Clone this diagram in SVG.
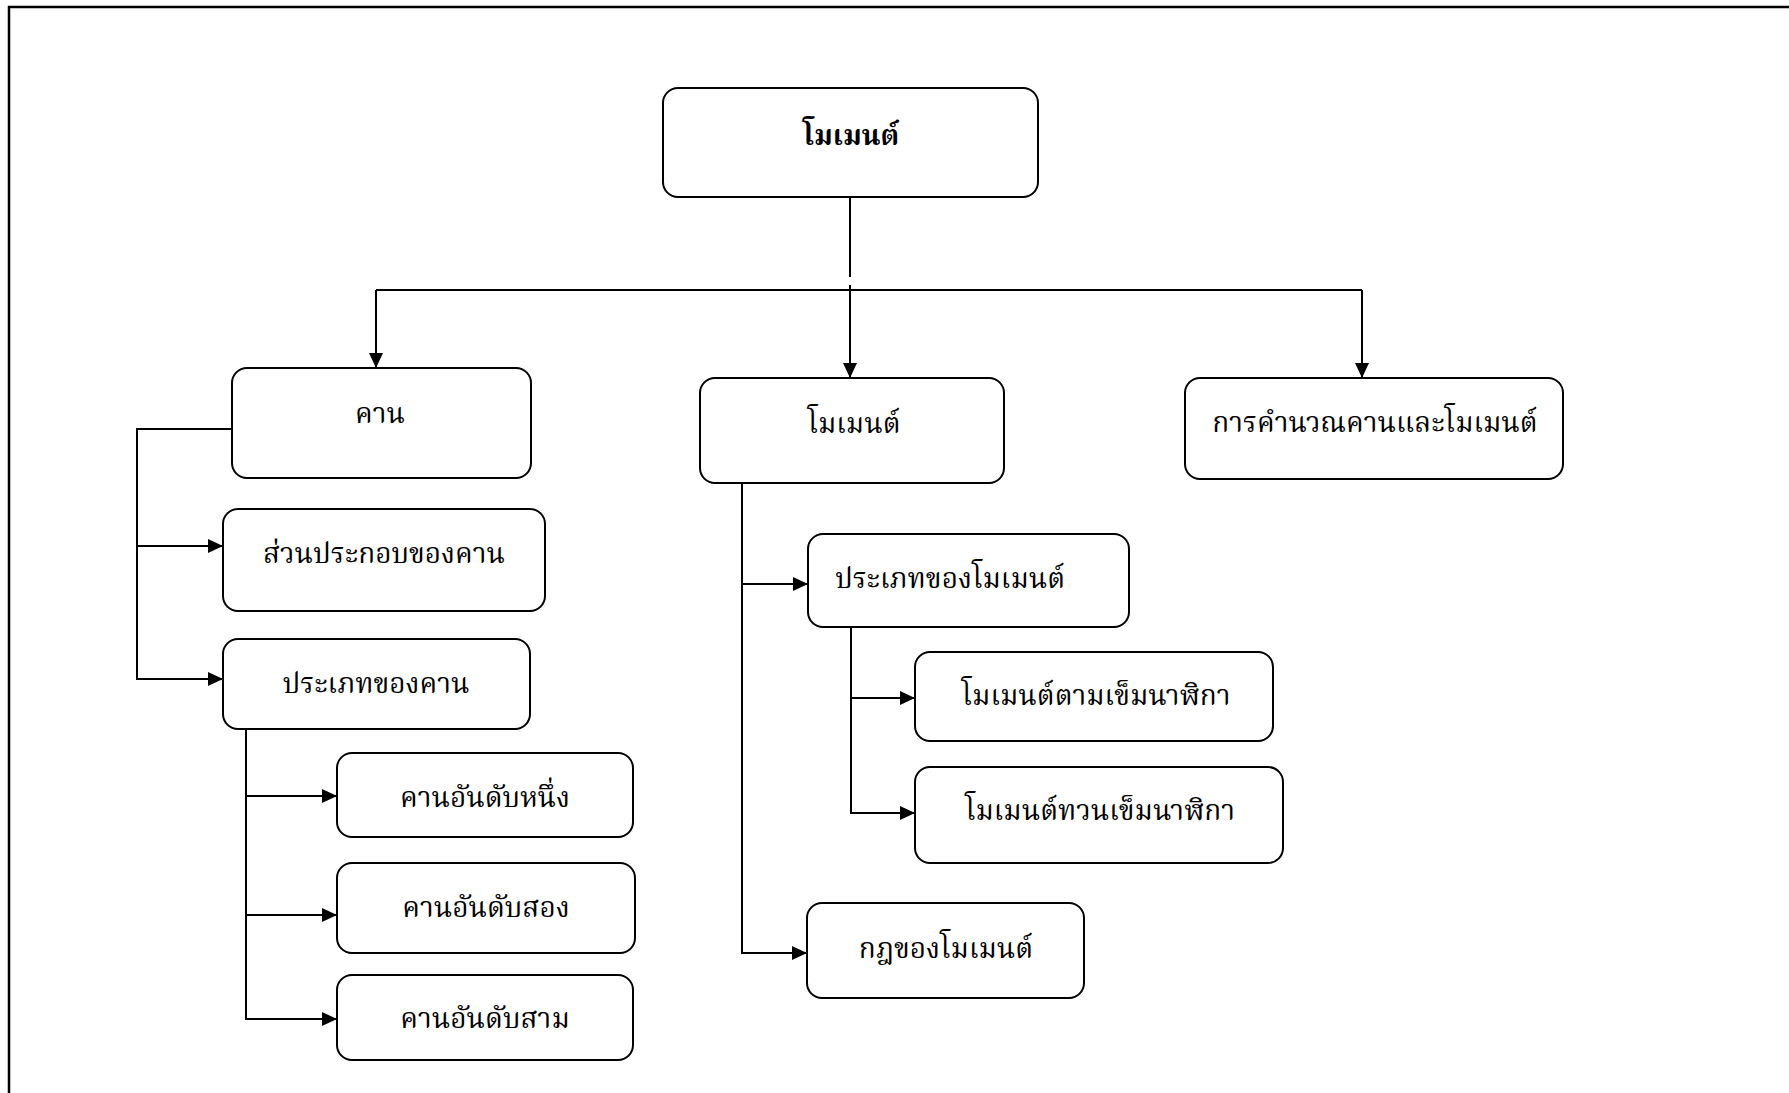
<svg xmlns="http://www.w3.org/2000/svg" width="1789" height="1093" viewBox="0 0 1789 1093">
<style>
.box{fill:#fff;stroke:#000;stroke-width:2}
.t{font-family:"Liberation Serif","Noto Serif Thai","Noto Sans Thai",serif;font-size:28px;fill:#000;text-anchor:middle}
.b{font-weight:bold}
.c{fill:none;stroke:#000;stroke-width:2}
</style>
<defs>
<marker id="ah" markerUnits="userSpaceOnUse" markerWidth="16" markerHeight="14" refX="15" refY="7" orient="auto">
<path d="M0,0 L15,7 L0,14 z" fill="#000"/>
</marker>
</defs>
<rect width="1789" height="1093" fill="#fff"/>
<path d="M1789,7 H9 V1093" fill="none" stroke="#000" stroke-width="2.5"/>
<g id="connectors">
<path class="c" d="M850,197 V277"/>
<path class="c" d="M850,285 V378" marker-end="url(#ah)"/>
<path class="c" d="M376,290 H1362"/>
<path class="c" d="M376,290 V368" marker-end="url(#ah)"/>
<path class="c" d="M1362,290 V378" marker-end="url(#ah)"/>
<path class="c" d="M232,429 H137 V679 H223" marker-end="url(#ah)"/>
<path class="c" d="M137,546 H223" marker-end="url(#ah)"/>
<path class="c" d="M246,729 V1019 H337" marker-end="url(#ah)"/>
<path class="c" d="M246,796 H337" marker-end="url(#ah)"/>
<path class="c" d="M246,915 H337" marker-end="url(#ah)"/>
<path class="c" d="M742,477 V953 H807" marker-end="url(#ah)"/>
<path class="c" d="M742,584 H808" marker-end="url(#ah)"/>
<path class="c" d="M851,627 V813 H915" marker-end="url(#ah)"/>
<path class="c" d="M851,698 H915" marker-end="url(#ah)"/>
</g>
<g id="n0"><rect class="box" x="663" y="88" width="375" height="109" rx="15"/><text class="t b" x="851" y="145">โมเมนต์</text></g>
<g id="n1"><rect class="box" x="232" y="368" width="299" height="110" rx="15"/><text class="t" x="380" y="423">คาน</text></g>
<g id="n2"><rect class="box" x="223" y="509" width="322" height="102" rx="15"/><text class="t" x="384" y="563">ส่วนประกอบของคาน</text></g>
<g id="n3"><rect class="box" x="223" y="639" width="307" height="90" rx="15"/><text class="t" x="376" y="693">ประเภทของคาน</text></g>
<g id="n4"><rect class="box" x="337" y="753" width="296" height="84" rx="15"/><text class="t" x="485" y="807">คานอันดับหนึ่ง</text></g>
<g id="n5"><rect class="box" x="337" y="863" width="298" height="90" rx="15"/><text class="t" x="486" y="917">คานอันดับสอง</text></g>
<g id="n6"><rect class="box" x="337" y="975" width="296" height="85" rx="15"/><text class="t" x="485" y="1028">คานอันดับสาม</text></g>
<g id="n7"><rect class="box" x="700" y="378" width="304" height="105" rx="15"/><text class="t" x="854" y="433">โมเมนต์</text></g>
<g id="n8"><rect class="box" x="808" y="534" width="321" height="93" rx="15"/><text class="t" x="950" y="588">ประเภทของโมเมนต์</text></g>
<g id="n9"><rect class="box" x="915" y="652" width="358" height="89" rx="15"/><text class="t" x="1096" y="705">โมเมนต์ตามเข็มนาฬิกา</text></g>
<g id="n10"><rect class="box" x="915" y="767" width="368" height="96" rx="15"/><text class="t" x="1100" y="820">โมเมนต์ทวนเข็มนาฬิกา</text></g>
<g id="n11"><rect class="box" x="807" y="903" width="277" height="95" rx="15"/><text class="t" x="946" y="958">กฎของโมเมนต์</text></g>
<g id="n12"><rect class="box" x="1185" y="378" width="378" height="101" rx="15"/><text class="t" x="1375" y="432">การคำนวณคานและโมเมนต์</text></g>
</svg>
